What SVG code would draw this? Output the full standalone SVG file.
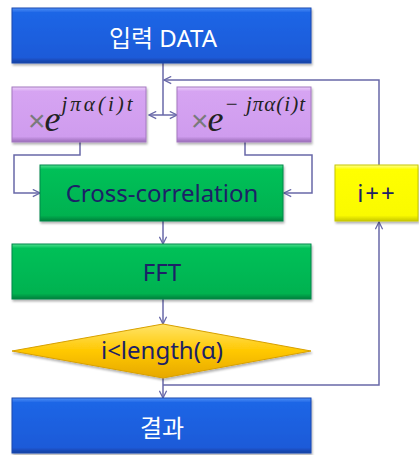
<svg xmlns="http://www.w3.org/2000/svg" width="419" height="455" viewBox="0 0 419 455">
<defs>
<linearGradient id="gBlue" x1="0" y1="0" x2="0" y2="1">
<stop offset="0" stop-color="#4f92f8"/><stop offset="0.08" stop-color="#1f66e6"/><stop offset="0.9" stop-color="#1d5ad8"/><stop offset="1" stop-color="#143f9e"/>
</linearGradient>
<linearGradient id="gGreen" x1="0" y1="0" x2="0" y2="1">
<stop offset="0" stop-color="#4fe08e"/><stop offset="0.08" stop-color="#00c058"/><stop offset="0.9" stop-color="#00b250"/><stop offset="1" stop-color="#00803a"/>
</linearGradient>
<linearGradient id="gPurple" x1="0" y1="0" x2="0" y2="1">
<stop offset="0" stop-color="#ecd0fa"/><stop offset="0.08" stop-color="#d6a4f2"/><stop offset="0.9" stop-color="#cf9cee"/><stop offset="1" stop-color="#9a6cb8"/>
</linearGradient>
<linearGradient id="gYellow" x1="0" y1="0" x2="0" y2="1">
<stop offset="0" stop-color="#ffff90"/><stop offset="0.08" stop-color="#ffff00"/><stop offset="0.9" stop-color="#fafa00"/><stop offset="1" stop-color="#c8c800"/>
</linearGradient>
<linearGradient id="gGold" x1="0" y1="0" x2="0" y2="1">
<stop offset="0" stop-color="#ffe46a"/><stop offset="0.5" stop-color="#ffc800"/><stop offset="1" stop-color="#e6a800"/>
</linearGradient>
<filter id="sh" x="-10%" y="-10%" width="120%" height="130%">
<feDropShadow dx="1" dy="2" stdDeviation="1.2" flood-color="#000" flood-opacity="0.3"/>
</filter>
<marker id="ah" viewBox="0 0 10 10" refX="9" refY="5" markerWidth="9" markerHeight="9" markerUnits="userSpaceOnUse" orient="auto-start-reverse">
<path d="M1,1 L9,5 L1,9" fill="none" stroke="#6868a8" stroke-width="1.4"/>
</marker>
<style>
.ln{fill:none;stroke:#6868a8;stroke-width:1.5}
.lbl{font-family:"Noto Sans","Noto Sans CJK KR",sans-serif;text-anchor:middle}
.w{fill:#ffffff;font-size:24px}
.d{fill:#1c2166;font-size:24px}
.sup{font-family:"Liberation Serif",serif;font-style:italic;font-size:21px;fill:#222;letter-spacing:3px}
.ee{font-family:"Liberation Serif",serif;font-style:italic;font-size:36px;fill:#222}
.tx{font-family:"Liberation Sans",sans-serif;font-size:30px;fill:#7a7a7a}
</style>
</defs>

<g id="connectors">
<polyline class="ln" points="163,63 163,115"/>
<line class="ln" x1="149" y1="115" x2="177" y2="115" marker-start="url(#ah)" marker-end="url(#ah)"/>
<polyline class="ln" points="379,165 379,80 164,80" marker-end="url(#ah)"/>
<polyline class="ln" points="80,142 80,155 14,155 14,193 40,193" marker-end="url(#ah)"/>
<polyline class="ln" points="245,142 245,155 312,155 312,193 284,193" marker-end="url(#ah)"/>
<line class="ln" x1="163" y1="221" x2="163" y2="244" marker-end="url(#ah)"/>
<line class="ln" x1="163" y1="299" x2="163" y2="324" marker-end="url(#ah)"/>
<line class="ln" x1="163" y1="378" x2="163" y2="398" marker-end="url(#ah)"/>
<polyline class="ln" points="163,385 379,385 379,222" marker-end="url(#ah)"/>
</g>

<g id="input">
<rect x="12" y="8" width="299" height="55" fill="url(#gBlue)" stroke="#1a48b0" stroke-width="1" filter="url(#sh)"/>
<text class="lbl w" x="163" y="47">입력 DATA</text>
</g>

<g id="mulPos">
<rect x="12" y="87" width="134" height="55" fill="url(#gPurple)" stroke="#a478c0" stroke-width="1" filter="url(#sh)"/>
<text x="28" y="131"><tspan class="tx">×</tspan><tspan class="ee" dx="-1">e</tspan><tspan class="sup" dx="1" dy="-20">jπα(i)t</tspan></text>
</g>

<g id="mulNeg">
<rect x="177" y="87" width="134" height="55" fill="url(#gPurple)" stroke="#a478c0" stroke-width="1" filter="url(#sh)"/>
<text x="191" y="131"><tspan class="tx">×</tspan><tspan class="ee" dx="-1">e</tspan><tspan class="sup" dx="1" dy="-20" style="letter-spacing:1px">− jπα(i)t</tspan></text>
</g>

<g id="xcorr">
<rect x="40" y="165" width="243" height="56" fill="url(#gGreen)" stroke="#00884a" stroke-width="1" filter="url(#sh)"/>
<text class="lbl d" x="162" y="202">Cross-correlation</text>
</g>

<g id="inc">
<rect x="335" y="165" width="83" height="56" fill="url(#gYellow)" stroke="#c8c800" stroke-width="1" filter="url(#sh)"/>
<text class="lbl d" x="377" y="202" style="letter-spacing:2px">i++</text>
</g>

<g id="fft">
<rect x="12" y="244" width="299" height="55" fill="url(#gGreen)" stroke="#00884a" stroke-width="1" filter="url(#sh)"/>
<text class="lbl d" x="162" y="281">FFT</text>
</g>

<g id="cond">
<polygon points="12,351 163,324 311,351 163,378" fill="url(#gGold)" stroke="#d8a000" stroke-width="1" filter="url(#sh)"/>
<text class="lbl d" x="162" y="359">i&lt;length(α)</text>
</g>

<g id="result">
<rect x="12" y="398" width="299" height="55" fill="url(#gBlue)" stroke="#1a48b0" stroke-width="1" filter="url(#sh)"/>
<text class="lbl w" x="162" y="437">결과</text>
</g>
</svg>
